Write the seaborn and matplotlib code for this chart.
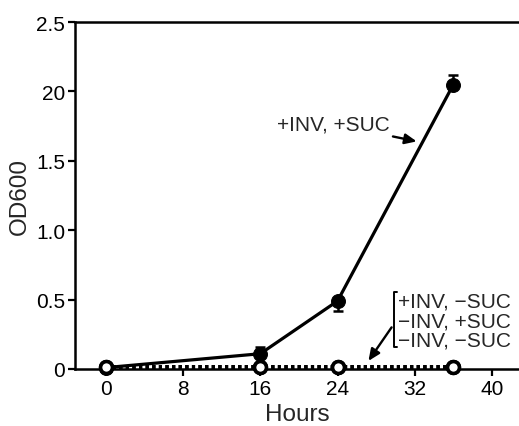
import numpy as np
import pandas as pd
import seaborn as sns
import matplotlib.pyplot as plt

# data
hours = [0, 16, 24, 36]
od_inv_suc = [0.01, 0.11, 0.49, 2.05]
err_low = [0.0, 0.0, 0.07, 0.0]
err_high = [0.0, 0.05, 0.0, 0.07]
od_inv_nosuc = [0.015, 0.015, 0.015, 0.015]
od_noinv_suc = [0.015, 0.015, 0.015, 0.015]
od_noinv_nosuc = [0.015, 0.015, 0.015, 0.015]
ctrl_err = [0.035, 0.035, 0.0, 0.0]

xticks = [0, 8, 16, 24, 32, 40]
yticks = [0, 0.5, 1.0, 1.5, 2.0, 2.5]
ytick_labels = ['0', '0.5', '1.0', '1.5', '20', '2.5']

sns.set_style('ticks')
plt.rcParams['font.family'] = ['Liberation Sans', 'DejaVu Sans']

df = pd.DataFrame({'Hours': hours * 4,
                   'OD600': od_inv_suc + od_inv_nosuc + od_noinv_suc + od_noinv_nosuc,
                   'cond': ['+INV, +SUC'] * 4 + ['+INV, \u2212SUC'] * 4
                           + ['\u2212INV, +SUC'] * 4 + ['\u2212INV, \u2212SUC'] * 4})

fig = plt.figure(figsize=(5.19, 4.27), dpi=100)
ax = fig.add_axes([0.1445, 0.1335, 0.8555, 0.8125])

# growing culture
main = df[df['cond'] == '+INV, +SUC']
ax.errorbar(hours, od_inv_suc, yerr=[err_low, err_high], fmt='none', ecolor='black',
            elinewidth=1.8, capsize=3.5, capthick=1.8, zorder=3, clip_on=False)
sns.lineplot(data=main, x='Hours', y='OD600', color='black', linewidth=2.3,
             marker='o', markersize=10, markeredgecolor='black', markerfacecolor='black',
             ax=ax, zorder=4, clip_on=False)

# controls (overlapping)
for c in ['+INV, \u2212SUC', '\u2212INV, +SUC', '\u2212INV, \u2212SUC']:
    sub = df[df['cond'] == c]
    ax.errorbar(hours, sub['OD600'], yerr=[ctrl_err, [0] * 4], fmt='none', ecolor='black',
                elinewidth=1.5, capsize=3, capthick=1.5, zorder=5, clip_on=False)
    sns.lineplot(data=sub, x='Hours', y='OD600', color='black', linewidth=2.8,
                 linestyle=(0, (0.8, 0.9)), marker='o', markersize=8.5,
                 markeredgewidth=2.5, markeredgecolor='black', markerfacecolor='white',
                 ax=ax, zorder=6, clip_on=False)

ax.set_xlim(-3.2, 42.8)
ax.set_ylim(0, 2.5)
ax.set_xticks(xticks)
ax.set_yticks(yticks)
ax.set_yticklabels(ytick_labels)
ax.tick_params(labelsize=15, width=1.6, length=5, pad=2, color='black', labelcolor='black')
ax.set_xlabel('Hours', fontsize=17.5, labelpad=4)
ax.set_ylabel('OD600', fontsize=17.5, labelpad=4)
for s in ['left', 'bottom', 'top']:
    ax.spines[s].set_linewidth(1.8)
    ax.spines[s].set_color('black')
ax.spines['right'].set_visible(False)
if ax.get_legend():
    ax.get_legend().remove()

# annotations
arrow = dict(arrowstyle='-|>,head_length=0.5,head_width=0.22', color='black', lw=1.7,
             mutation_scale=14, shrinkA=0, shrinkB=0)
ax.annotate('+INV, +SUC', xy=(32.2, 1.64), xytext=(29.4, 1.765), fontsize=15,
            ha='right', va='center', arrowprops=arrow)
ax.annotate('', xy=(27.2, 0.058), xytext=(29.6, 0.30), arrowprops=arrow)
ax.plot([30.2, 29.8, 29.8, 30.2], [0.555, 0.555, 0.158, 0.158], color='black', lw=1.4)
for c, yy in zip(['+INV, \u2212SUC', '\u2212INV, +SUC', '\u2212INV, \u2212SUC'],
                 [0.49, 0.346, 0.209]):
    ax.text(30.3, yy, c, fontsize=15, ha='left', va='center')

fig.savefig('out.png', dpi=100)
